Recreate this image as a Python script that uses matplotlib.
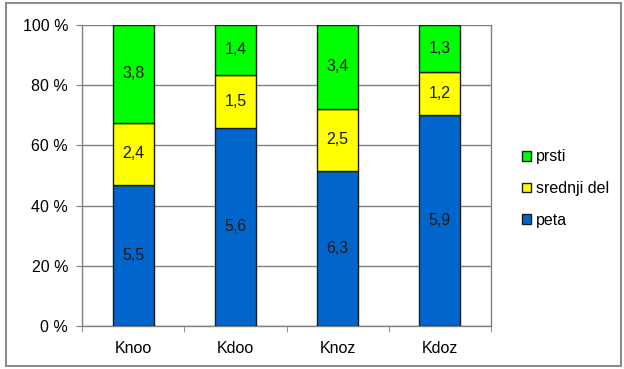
import matplotlib
matplotlib.use('Agg')
import matplotlib.pyplot as plt
from matplotlib.patches import Rectangle
import numpy as np

plt.rcParams['font.family'] = ['Liberation Sans', 'DejaVu Sans']

categories = ['Knoo', 'Kdoo', 'Knoz', 'Kdoz']
peta = [5.5, 5.6, 6.3, 5.9]
srednji_del = [2.4, 1.5, 2.5, 1.2]
prsti = [3.8, 1.4, 3.4, 1.3]

series = [('peta', peta, '#0066CC'),
          ('srednji del', srednji_del, '#FFFF00'),
          ('prsti', prsti, '#00FF00')]

W, H = 624, 369
FS = 11.5
fig = plt.figure(figsize=(W / 100, H / 100), dpi=100)

# outer chart frame
fig.patches.append(Rectangle((6 / W, 3 / H), (621 - 6) / W, (366 - 3) / H,
                             transform=fig.transFigure, fill=False,
                             edgecolor='#8c8c8c', linewidth=1.5))

ax = fig.add_axes([82 / W, (H - 326) / H, (491 - 82) / W, (326 - 25) / H])

totals = np.sum([s[1] for s in series], axis=0)
x = np.arange(len(categories))
bottom = np.zeros(len(categories))
handles = {}
for name, vals, color in series:
    pct = np.array(vals) / totals * 100
    bars = ax.bar(x, pct, width=0.4, bottom=bottom, color=color,
                  edgecolor='#1a1a1a', linewidth=1.0, zorder=3, label=name)
    handles[name] = bars
    for xi, b, p, v in zip(x, bottom, pct, vals):
        ax.text(xi, b + p / 2, f'{v:.1f}'.replace('.', ','), ha='center',
                va='center', fontsize=FS, color='#1a1a1a', zorder=4)
    bottom += pct

ax.set_xlim(-0.5, len(categories) - 0.5)
ax.set_ylim(0, 100)
ax.set_yticks(np.arange(0, 101, 20))
ax.set_yticklabels([f'{t} %' for t in range(0, 101, 20)], fontsize=FS)
ax.set_xticks(x)
ax.set_xticklabels(categories, fontsize=FS)
ax.set_xticks(np.arange(-0.5, len(categories), 1), minor=True)
ax.tick_params(axis='x', which='major', length=0, pad=11)
ax.tick_params(axis='x', which='minor', length=4, color='#808080', direction='out')
ax.tick_params(axis='y', length=4, color='#808080', direction='out', pad=6)
ax.grid(axis='y', color='#808080', linewidth=1.0, zorder=0)
ax.set_axisbelow(True)
for side in ['left', 'bottom', 'right']:
    ax.spines[side].set_color('#808080')
    ax.spines[side].set_linewidth(1.0)
ax.spines['top'].set_visible(False)

order = ['prsti', 'srednji del', 'peta']
leg = fig.legend([handles[n] for n in order], order, loc='upper left',
                 bbox_to_anchor=(516 / W, 1 - 143 / H), frameon=False,
                 fontsize=FS, handlelength=0.55, handleheight=0.55,
                 handletextpad=0.3, labelspacing=1.05, borderaxespad=0)

fig.savefig('out.png', dpi=100)
